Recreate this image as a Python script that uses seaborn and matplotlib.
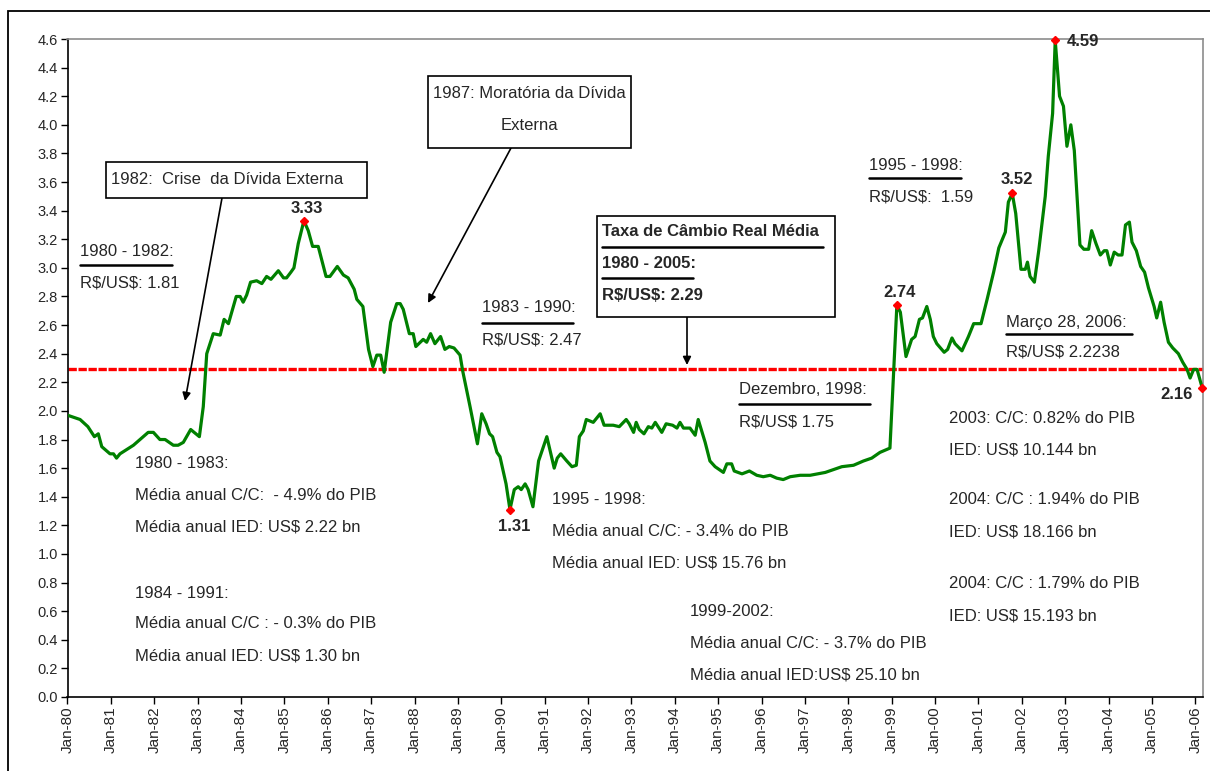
import numpy as np
import pandas as pd
import seaborn as sns
import matplotlib.pyplot as plt
from matplotlib.patches import Rectangle
from matplotlib.lines import Line2D

# taxa de cambio real R$/US$, ano decimal
anos = [1980.00, 1980.29, 1980.47, 1980.62, 1980.71, 1980.79, 1980.98, 1981.06, 1981.13, 1981.21,
        1981.52, 1981.71, 1981.86, 1981.98, 1982.13, 1982.25, 1982.44, 1982.55, 1982.67, 1982.84,
        1983.04, 1983.13, 1983.21, 1983.36, 1983.52, 1983.61, 1983.71, 1983.89, 1983.98, 1984.05,
        1984.13, 1984.22, 1984.36, 1984.48, 1984.59, 1984.69, 1984.86, 1984.98, 1985.05, 1985.15,
        1985.22, 1985.32, 1985.45, 1985.55, 1985.65, 1985.78, 1985.96, 1986.05, 1986.22, 1986.36,
        1986.47, 1986.61, 1986.67, 1986.81, 1986.94, 1987.04, 1987.13, 1987.22, 1987.30, 1987.45,
        1987.59, 1987.67, 1987.74, 1987.88, 1987.97, 1988.03, 1988.20, 1988.28, 1988.37, 1988.47,
        1988.60, 1988.70, 1988.80, 1988.91, 1989.05, 1989.11, 1989.28, 1989.45, 1989.55, 1989.65,
        1989.73, 1989.80, 1989.90, 1989.97, 1990.11, 1990.20, 1990.30, 1990.39, 1990.46, 1990.55,
        1990.62, 1990.73, 1990.86, 1991.05, 1991.22, 1991.29, 1991.37, 1991.51, 1991.63, 1991.73,
        1991.80, 1991.89, 1991.96, 1992.12, 1992.28, 1992.37, 1992.58, 1992.72, 1992.88, 1992.95,
        1993.05, 1993.11, 1993.18, 1993.29, 1993.39, 1993.47, 1993.55, 1993.70, 1993.80, 1993.95,
        1994.05, 1994.12, 1994.20, 1994.35, 1994.47, 1994.54, 1994.70, 1994.81, 1994.93, 1995.12,
        1995.20, 1995.31, 1995.37, 1995.55, 1995.72, 1995.89, 1996.04, 1996.20, 1996.35, 1996.50,
        1996.66, 1996.89, 1997.12, 1997.47, 1997.66, 1997.85, 1998.12, 1998.35, 1998.54, 1998.73,
        1998.96, 1999.04, 1999.12, 1999.20, 1999.33, 1999.46, 1999.54, 1999.64, 1999.71, 1999.81,
        1999.89, 1999.96, 2000.04, 2000.21, 2000.29, 2000.39, 2000.46, 2000.62, 2000.77, 2000.89,
        2001.06, 2001.20, 2001.35, 2001.47, 2001.62, 2001.69, 2001.78, 2001.86, 2001.98, 2002.08,
        2002.13, 2002.19, 2002.29, 2002.39, 2002.54, 2002.61, 2002.71, 2002.77, 2002.87, 2002.96,
        2003.04, 2003.13, 2003.21, 2003.34, 2003.43, 2003.54, 2003.61, 2003.71, 2003.81, 2003.90,
        2003.96, 2004.04, 2004.13, 2004.22, 2004.31, 2004.39, 2004.48, 2004.54, 2004.64, 2004.74,
        2004.83, 2004.92, 2005.00, 2005.05, 2005.11, 2005.20, 2005.28, 2005.38, 2005.48, 2005.61,
        2005.71, 2005.81, 2005.88, 2005.96, 2006.04, 2006.16]
taxa = [1.97, 1.94, 1.89, 1.82, 1.84, 1.75, 1.70, 1.70, 1.67, 1.70,
        1.76, 1.81, 1.85, 1.85, 1.80, 1.80, 1.76, 1.76, 1.78, 1.87,
        1.82, 2.03, 2.40, 2.54, 2.53, 2.64, 2.61, 2.80, 2.80, 2.76,
        2.81, 2.90, 2.91, 2.89, 2.94, 2.92, 2.98, 2.93, 2.93, 2.97,
        3.00, 3.17, 3.33, 3.26, 3.15, 3.15, 2.94, 2.94, 3.01, 2.95,
        2.93, 2.85, 2.78, 2.73, 2.43, 2.31, 2.39, 2.39, 2.27, 2.62,
        2.75, 2.75, 2.71, 2.54, 2.54, 2.45, 2.50, 2.48, 2.54, 2.47,
        2.52, 2.43, 2.45, 2.44, 2.39, 2.28, 2.03, 1.77, 1.98, 1.91,
        1.84, 1.82, 1.71, 1.68, 1.49, 1.31, 1.45, 1.47, 1.45, 1.49,
        1.45, 1.33, 1.65, 1.82, 1.60, 1.67, 1.70, 1.65, 1.61, 1.62,
        1.82, 1.86, 1.94, 1.92, 1.98, 1.90, 1.90, 1.89, 1.94, 1.91,
        1.85, 1.92, 1.87, 1.84, 1.89, 1.88, 1.92, 1.85, 1.91, 1.90,
        1.88, 1.92, 1.88, 1.88, 1.83, 1.94, 1.78, 1.65, 1.61, 1.57,
        1.63, 1.63, 1.58, 1.56, 1.58, 1.55, 1.54, 1.55, 1.53, 1.52,
        1.54, 1.55, 1.55, 1.57, 1.59, 1.61, 1.62, 1.65, 1.67, 1.71,
        1.74, 2.24, 2.74, 2.69, 2.38, 2.50, 2.52, 2.64, 2.65, 2.73,
        2.64, 2.52, 2.47, 2.41, 2.43, 2.51, 2.47, 2.42, 2.52, 2.61,
        2.61, 2.78, 2.97, 3.14, 3.25, 3.46, 3.52, 3.38, 2.99, 2.99,
        3.04, 2.94, 2.90, 3.12, 3.50, 3.78, 4.08, 4.59, 4.20, 4.13,
        3.85, 4.00, 3.82, 3.16, 3.13, 3.13, 3.26, 3.17, 3.09, 3.12,
        3.12, 3.02, 3.11, 3.09, 3.09, 3.30, 3.32, 3.18, 3.12, 3.01,
        2.97, 2.86, 2.78, 2.73, 2.65, 2.76, 2.62, 2.48, 2.44, 2.40,
        2.34, 2.29, 2.23, 2.29, 2.29, 2.16]

media = 2.29
picos_anos = [1985.45, 1990.20, 1999.12, 2001.78, 2002.77, 2006.16]
picos_txt = ['3.33', '1.31', '2.74', '3.52', '4.59', '2.16']
anos_ticks = list(range(1980, 2007))
ticks_lbl = [f'Jan-{a % 100:02d}' for a in anos_ticks]

df = pd.DataFrame({'ano': anos, 'taxa': taxa})

sns.set_style('ticks')
plt.rcParams['font.family'] = ['Liberation Sans', 'DejaVu Sans']
plt.rcParams['text.parse_math'] = False

W, H = 1210, 771
fig = plt.figure(figsize=(W / 100, H / 100), dpi=100)
ax = fig.add_axes([67.5 / W, 1 - 697 / H, (1202.7 - 67.5) / W, (697 - 39) / H])


def fx(x):
    return x / W


def fy(y):
    return 1 - y / H


sns.lineplot(data=df, x='ano', y='taxa', color='#008000', linewidth=2.3, ax=ax, zorder=3)
ax.axhline(media, color='#ff0000', linewidth=2.4, linestyle=(0, (2.5, 0.5)), zorder=2)

pk = df[df['ano'].isin(picos_anos)]
ax.plot(pk['ano'], pk['taxa'], linestyle='none', marker='D', markersize=4.5,
        color='#ff0000', zorder=4, clip_on=False)

# rotulos dos picos (deslocamento em pontos)
desloc = [(2, 9, 'center'), (3, -12, 'center'), (2, 9, 'center'),
          (3, 10, 'center'), (8, -1, 'left'), (-7, -5, 'right')]
for (a, v), t, (dx, dy, ha) in zip(pk[['ano', 'taxa']].values, picos_txt, desloc):
    ax.annotate(t, (a, v), xytext=(dx, dy), textcoords='offset points', ha=ha,
                va='center', fontsize=12, fontweight='bold', zorder=5)

ax.set_xlim(1980, 2006.17)
ax.set_ylim(0, 4.6)
ax.set_xticks(anos_ticks)
ax.set_xticklabels(ticks_lbl, rotation=90, fontsize=11)
ax.set_yticks(np.arange(0, 4.61, 0.2))
ax.set_yticklabels([f'{v:.1f}' for v in np.arange(0, 4.61, 0.2)], fontsize=10.5)
ax.tick_params(direction='out', length=5, width=1, color='black', pad=2)
ax.set_xlabel('')
ax.set_ylabel('')
for s in ['left', 'bottom']:
    ax.spines[s].set_color('black')
    ax.spines[s].set_linewidth(1.2)
for s in ['top', 'right']:
    ax.spines[s].set_visible(True)
    ax.spines[s].set_color('#8c8c8c')
    ax.spines[s].set_linewidth(1.2)

# moldura externa
fig.add_artist(Rectangle((fx(8), fy(800)), fx(1220) - fx(8), fy(11) - fy(800),
                         transform=fig.transFigure, fill=False, ec='black', lw=1.3,
                         clip_on=False))

fs = 12


def txt(x, y, s, **kw):
    fig.text(fx(x), fy(y), s, va='center', fontsize=kw.pop('fontsize', fs), **kw)


def sub(x0, x1, y):
    fig.add_artist(Line2D([fx(x0), fx(x1)], [fy(y), fy(y)], color='black', lw=1.8,
                          transform=fig.transFigure))


def seta(x0, y0, x1, y1):
    ax.annotate('', xy=(fx(x1), fy(y1)), xycoords='figure fraction',
                xytext=(fx(x0), fy(y0)), textcoords='figure fraction',
                arrowprops=dict(arrowstyle='-|>', color='black', lw=1.2,
                                mutation_scale=12, shrinkA=0, shrinkB=0))


def caixa(x0, y0, x1, y1):
    fig.add_artist(Rectangle((fx(x0), fy(y1)), fx(x1) - fx(x0), fy(y0) - fy(y1),
                             transform=fig.transFigure, fc='white', ec='black', lw=1.2,
                             zorder=6))


# caixas com setas
caixa(106, 162, 367, 198)
txt(111, 180, '1982:  Crise  da Dívida Externa', zorder=7)
seta(222, 198, 185, 401)

caixa(428, 76, 631, 148)
txt(529, 93, '1987: Moratória da Dívida', ha='center', zorder=7)
txt(529, 125, 'Externa', ha='center', zorder=7)
seta(511, 148, 428, 303)

caixa(597, 216, 835, 317)
txt(602, 232, 'Taxa de Câmbio Real Média', fontweight='bold', zorder=7)
txt(602, 264, '1980 - 2005:', fontweight='bold', zorder=7)
txt(602, 296, 'R$/US$: 2.29', fontweight='bold', zorder=7)
fig.add_artist(Line2D([fx(602), fx(823)], [fy(247), fy(247)], color='black', lw=1.8,
                      transform=fig.transFigure, zorder=7))
fig.add_artist(Line2D([fx(602), fx(693)], [fy(278), fy(278)], color='black', lw=1.8,
                      transform=fig.transFigure, zorder=7))
seta(687, 317, 687, 365)

# medias por periodo
txt(80, 252, '1980 - 1982:')
sub(80, 172, 265)
txt(80, 283, 'R$/US$: 1.81')

txt(482, 308, '1983 - 1990:')
sub(482, 573, 323)
txt(482, 340, 'R$/US$: 2.47')

txt(739, 390, 'Dezembro, 1998:')
sub(739, 870, 404)
txt(739, 422, 'R$/US$ 1.75')

txt(869, 165, '1995 - 1998:')
sub(869, 961, 178)
txt(869, 197, 'R$/US$:  1.59')

txt(1006, 322, 'Março 28, 2006:')
sub(1006, 1132, 334)
txt(1006, 352, 'R$/US$ 2.2238')

# blocos de conta corrente / IED
blocos = [
    (135, [463, 495, 527], ['1980 - 1983:', 'Média anual C/C:  - 4.9% do PIB',
                            'Média anual IED: US$ 2.22 bn']),
    (135, [593, 624, 656], ['1984 - 1991:', 'Média anual C/C : - 0.3% do PIB',
                            'Média anual IED: US$ 1.30 bn']),
    (552, [500, 532, 563], ['1995 - 1998:', 'Média anual C/C: - 3.4% do PIB',
                            'Média anual IED: US$ 15.76 bn']),
    (690, [612, 643, 675], ['1999-2002:', 'Média anual C/C: - 3.7% do PIB',
                            'Média anual IED:US$ 25.10 bn']),
    (949, [419, 450], ['2003: C/C: 0.82% do PIB', 'IED: US$ 10.144 bn']),
    (949, [500, 532], ['2004: C/C : 1.94% do PIB', 'IED: US$ 18.166 bn']),
    (949, [584, 616], ['2004: C/C : 1.79% do PIB', 'IED: US$ 15.193 bn']),
]
for x, ys, linhas in blocos:
    for y, s in zip(ys, linhas):
        txt(x, y, s)

fig.savefig('out.png', dpi=100, facecolor='white')
